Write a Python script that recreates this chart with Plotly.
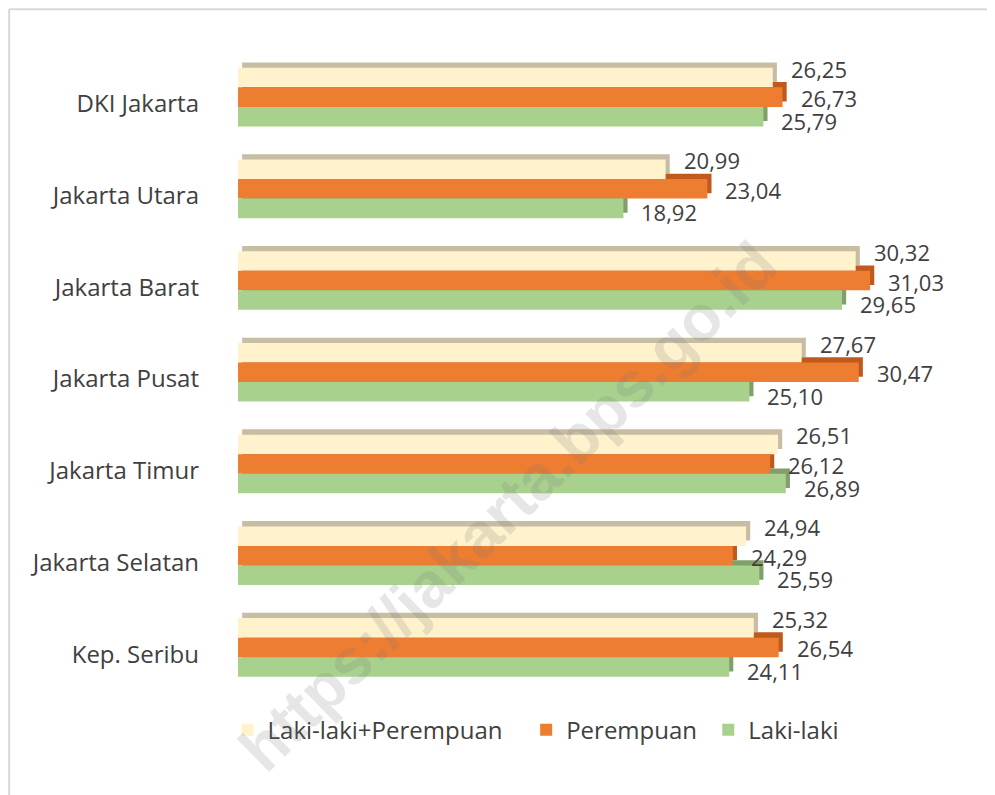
import plotly.graph_objects as go

categories = ["DKI Jakarta", "Jakarta Utara", "Jakarta Barat", "Jakarta Pusat",
              "Jakarta Timur", "Jakarta Selatan", "Kep. Seribu"]
total = [26.25, 20.99, 30.32, 27.67, 26.51, 24.94, 25.32]      # Laki-laki+Perempuan
female = [26.73, 23.04, 31.03, 30.47, 26.12, 24.29, 26.54]     # Perempuan
male = [25.79, 18.92, 29.65, 25.10, 26.89, 25.59, 24.11]       # Laki-laki
legend_names = ["Laki-laki+Perempuan", "Perempuan", "Laki-laki"]

NB = "\u00a0"
series = [
    (legend_names[0] + NB * 3, total, "#FFF2CC", "#C6BDA2", -0.393, 9),
    (legend_names[1] + NB, female, "#ED7D31", "#C05A1C", -0.180, -1),
    (legend_names[2], male, "#A9D18E", "#809F6B", 0.033, -4),
]
BAR_W = 0.213
DX = 0.34    # depth in x units
DY = 0.058   # depth in category units

FONT = "Open Sans"
TXT = "#404040"

pos = list(range(len(categories)))
fig = go.Figure()

# 3D depth (side / top faces) drawn first
for name, vals, col, dark, off, _ in series:
    fig.add_trace(go.Bar(
        y=pos, x=vals, base=DX * 0.6, orientation="h", width=BAR_W, offset=off - DY,
        marker=dict(color=dark, line=dict(width=0)), showlegend=False,
        hoverinfo="skip"))

# front faces
for name, vals, col, dark, off, _ in series:
    fig.add_trace(go.Bar(
        y=pos, x=vals, orientation="h", width=BAR_W, offset=off, name=name,
        marker=dict(color=col, line=dict(width=0))))

annotations = []
for name, vals, col, dark, off, ys in series:
    for p, v in zip(pos, vals):
        annotations.append(dict(
            x=v, y=p + off + BAR_W / 2, xref="x", yref="y",
            text=f"{v:.2f}".replace(".", ","), showarrow=False,
            xanchor="left", yanchor="middle", xshift=16, yshift=ys,
            font=dict(family=FONT, size=22, color=TXT)))

annotations.append(dict(
    x=0.379, y=0.302, xref="paper", yref="paper", xanchor="center", yanchor="middle",
    text="https://jakarta.bps.go.id", showarrow=False, textangle=-44.5,
    font=dict(family="Liberation Sans", size=64, color="rgba(120,120,120,0.19)",
              weight="bold")))

fig.update_layout(
    width=987, height=787,
    margin=dict(l=230, r=44, t=50, b=95),
    paper_bgcolor="white", plot_bgcolor="white",
    barmode="overlay",
    font=dict(family=FONT, size=24, color=TXT),
    xaxis=dict(range=[0, 35], visible=False, showgrid=False, zeroline=False),
    yaxis=dict(range=[6.5, -0.5], tickvals=pos, ticktext=categories,
               showgrid=False, zeroline=False, ticks="", ticklabelstandoff=38,
               tickfont=dict(family=FONT, size=24, color=TXT)),
    legend=dict(orientation="h", x=0.418, xanchor="center", y=-0.047,
                yanchor="middle", font=dict(family=FONT, size=24, color=TXT),
                itemwidth=30, traceorder="normal"),
    annotations=annotations,
    shapes=[
        dict(type="line", xref="paper", yref="paper", x0=-0.321, x1=1.07,
             y0=1.076, y1=1.076, line=dict(color="#D9D9D9", width=2)),
        dict(type="line", xref="paper", yref="paper", x0=-0.321, x1=-0.321,
             y0=1.076, y1=-0.16, line=dict(color="#D9D9D9", width=2)),
    ],
)

fig.write_html("out.html")
